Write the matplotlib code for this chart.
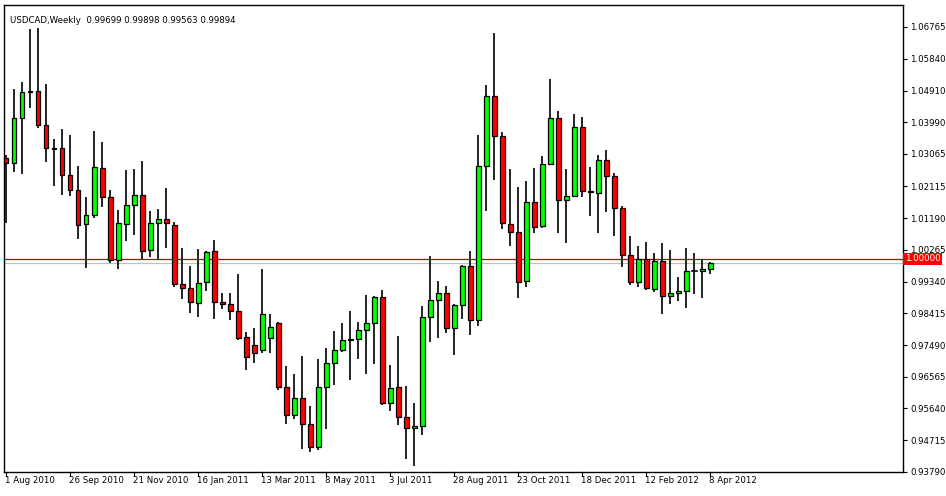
import matplotlib
matplotlib.use("Agg")
import matplotlib.pyplot as plt
from matplotlib.patches import Rectangle

opens = [1.02945,1.02799,1.04111,1.04898,1.04898,1.03907,1.03236,1.03236,1.02449,1.02012,
         1.01020,1.01283,1.02653,1.01807,0.99970,1.01020,1.01574,1.01866,1.00262,1.01049,
         1.01166,1.00991,0.99271,0.99154,0.98717,0.99329,1.00233,0.98746,0.98687,0.98483,
         0.97725,0.97492,0.97346,0.97696,0.98133,0.96267,0.95451,0.95946,0.95188,0.94517,
         0.96267,0.96967,0.97346,0.97638,0.97667,0.97929,0.98133,0.98891,0.95801,0.96267,
         0.95392,0.95072,0.95130,0.98308,0.98804,0.99008,0.97988,0.98658,0.99795,0.98221,
         1.02711,1.04753,1.03586,1.01020,1.00787,0.99358,1.01662,1.00962,1.02770,1.04111,
         1.01720,1.01837,1.03849,1.01982,1.01924,1.02886,1.02420,1.01487,1.00116,0.99329,
         1.00000,0.99125,0.99941,0.98921,0.99008,0.99066,0.99650,0.99650,0.99699]
highs = [1.03032,1.04957,1.05161,1.06706,1.06735,1.05103,1.03499,1.03790,1.03615,1.02711,
         1.01807,1.03732,1.03411,1.02012,1.01428,1.02595,1.02624,1.02857,1.01399,1.01458,
         1.02070,1.01078,1.00320,0.99795,1.00291,1.00233,1.00554,0.99008,0.99008,0.99562,
         0.97871,0.97988,0.99708,0.98396,0.98162,0.96879,0.96646,0.97171,0.95713,0.97084,
         0.97404,0.97900,0.98133,0.98483,0.98162,0.98950,0.98920,0.99096,0.96909,0.97754,
         0.96296,0.95801,0.98629,1.00087,0.99358,0.99212,0.98687,0.99825,1.00233,1.03615,
         1.05073,1.06590,1.03703,1.02624,1.02099,1.02274,1.02653,1.03003,1.05248,1.04315,
         1.02624,1.04228,1.04140,1.02682,1.03032,1.03178,1.02507,1.01545,1.00670,1.00379,
         1.00495,1.00175,1.00466,1.00262,0.99475,1.00320,1.00175,1.00000,0.99898]
lows = [1.01049,1.02536,1.02478,1.04403,1.03820,1.02828,1.02128,1.01866,1.01837,1.00583,
        0.99737,1.01195,1.01516,0.99883,0.99708,1.00524,1.00699,1.00000,1.00058,0.99970,
        1.00320,0.99183,0.98833,0.98425,0.98308,0.99066,0.98250,0.98542,0.98221,0.97638,
        0.96763,0.96967,0.97259,0.97259,0.96180,0.95188,0.95334,0.94459,0.94372,0.94430,
        0.95042,0.96325,0.97288,0.96471,0.97084,0.96646,0.96938,0.95742,0.95567,0.95159,
        0.94168,0.93963,0.94867,0.97579,0.97696,0.97842,0.97200,0.98250,0.97783,0.98046,
        1.01399,1.02303,1.00874,1.00379,0.98862,0.99183,1.00758,1.00904,1.02770,1.00758,
        1.00466,1.01810,1.01807,1.01253,1.00758,1.01370,1.00670,0.99766,0.99241,0.99183,
        0.99096,0.99037,0.98396,0.98687,0.98775,0.98571,0.98979,0.98863,0.99563]
closes = [1.02799,1.04111,1.04869,1.04880,1.03907,1.03236,1.03220,1.02449,1.02012,1.00991,
          1.01283,1.02682,1.01807,0.99970,1.01049,1.01574,1.01866,1.00233,1.01049,1.01166,
          1.01049,0.99271,0.99154,0.98746,0.99300,1.00204,0.98746,0.98687,0.98483,0.97696,
          0.97142,0.97259,0.98396,0.98017,0.96267,0.95451,0.95946,0.95188,0.94517,0.96267,
          0.96967,0.97346,0.97638,0.97660,0.97929,0.98133,0.98891,0.95801,0.96238,0.95392,
          0.95072,0.95130,0.98308,0.98804,0.99008,0.97988,0.98658,0.99795,0.98221,1.02711,
          1.04753,1.03586,1.01049,1.00787,0.99329,1.01662,1.00933,1.02770,1.04111,1.01720,
          1.01837,1.03849,1.01982,1.01960,1.02886,1.02420,1.01487,1.00116,0.99329,1.00000,
          0.99154,0.99941,0.98921,0.99008,0.99066,0.99650,0.99660,0.99700,0.99894]
date_labels = ["1 Aug 2010","26 Sep 2010","21 Nov 2010","16 Jan 2011","13 Mar 2011","8 May 2011",
               "3 Jul 2011","28 Aug 2011","23 Oct 2011","18 Dec 2011","12 Feb 2012","8 Apr 2012"]
price_ticks = [1.06765,1.05840,1.04910,1.03990,1.03065,1.02115,1.01190,1.00265,
               0.99340,0.98415,0.97490,0.96565,0.95640,0.94715,0.93790]
ref_level = 1.00000
bid = 0.99894

FS = 6.2
fig = plt.figure(figsize=(9.46, 4.96), dpi=100)
fig.patch.set_facecolor("white")
ax = fig.add_axes([4/946, 24/496, 899/946, 467/496])
ax.set_xlim(-0.25, 112.1)
ax.set_ylim(0.93788, 1.07406)

w = 0.62
for i, (o, h, l, c) in enumerate(zip(opens, highs, lows, closes)):
    ax.plot([i, i], [l, h], color="black", lw=1.2, zorder=2, solid_capstyle="butt")
    if abs(c - o) < 0.00012:
        ax.plot([i - w/2, i + w/2], [o, o], color="black", lw=1.2, zorder=3)
    else:
        col = "#00FF00" if c > o else "#FF0000"
        ax.add_patch(Rectangle((i - w/2, min(o, c)), w, abs(c - o), facecolor=col,
                               edgecolor="black", lw=0.9, zorder=3))

ax.axhline(ref_level, color="#C00000", lw=0.9, zorder=1)
ax.axhline(bid, color="#C0C0C0", lw=0.9, zorder=1)

ax.set_xticks([])
ax.yaxis.tick_right()
ax.set_yticks(price_ticks)
ax.set_yticklabels([f"{p:.5f}" for p in price_ticks], fontsize=FS, family="DejaVu Sans")
ax.tick_params(axis="y", length=3, pad=2, color="black")
for s in ax.spines.values():
    s.set_color("black")
    s.set_linewidth(1)

for k, lab in enumerate(date_labels):
    idx = 8 * k
    ax.text(idx - 0.1, -0.008, lab, transform=ax.get_xaxis_transform(), fontsize=FS,
            ha="left", va="top")
    ax.plot([idx, idx], [0, -0.008], transform=ax.get_xaxis_transform(),
            color="black", lw=0.8, clip_on=False)

ax.text(0.5, 1.0695, "USDCAD,Weekly  0.99699 0.99898 0.99563 0.99894", fontsize=FS,
        ha="left", va="center")
ax.text(1.002, ref_level, "1.00000", transform=ax.get_yaxis_transform(), fontsize=FS,
        color="white", ha="left", va="center", zorder=10,
        bbox=dict(boxstyle="square,pad=0.2", facecolor="#FF0000", edgecolor="none"))
fig.savefig("out.png", dpi=100)
